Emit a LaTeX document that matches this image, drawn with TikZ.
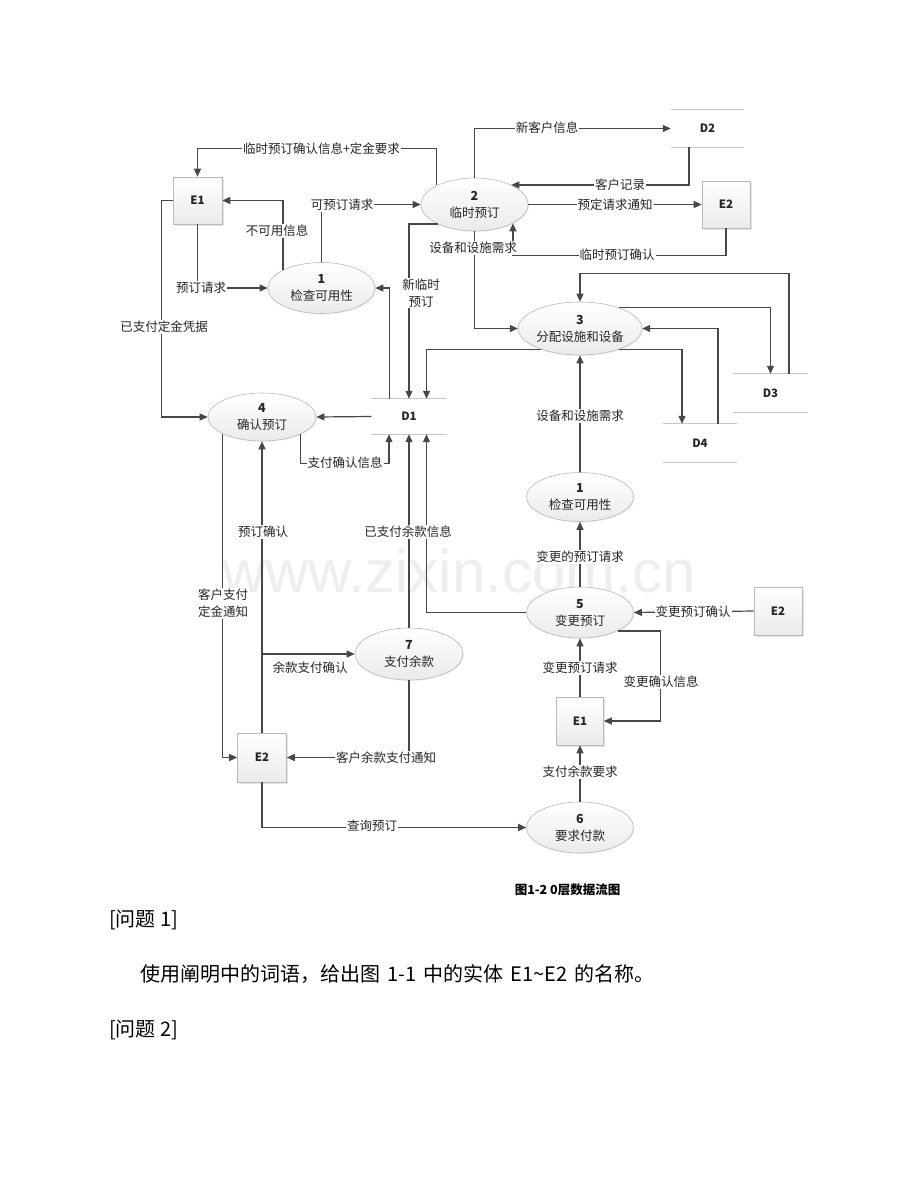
\documentclass[tikz,border=0pt]{standalone}
\usepackage{fontspec}
\setmainfont{Noto Sans CJK SC}
\newfontfamily\wmfont{Liberation Sans}
\usetikzlibrary{shapes.geometric,arrows.meta,calc,shadows}
\begin{document}
\begin{tikzpicture}[x=1pt,y=-1pt,
  lbl/.style={fill=white,inner sep=1pt,font=\fontsize{12.5}{17}\selectfont,align=center,text=black!85},
  proc/.style={ellipse,draw=gray!55,line width=0.6pt,top color=white,bottom color=gray!16,
    minimum width=107pt,minimum height=51pt,inner sep=0pt,align=center,
    font=\fontsize{12.5}{17}\selectfont,text=black!85,
    drop shadow={opacity=0.12,shadow xshift=1pt,shadow yshift=-1pt}},
  ent/.style={rectangle,draw=gray!55,line width=0.6pt,top color=white,bottom color=gray!16,
    minimum width=48pt,minimum height=48pt,inner sep=0pt,
    font=\bfseries\fontsize{11.5}{14}\selectfont,text=black!85,
    drop shadow={opacity=0.2,shadow xshift=1.5pt,shadow yshift=-1.5pt}},
  store/.style={minimum width=75pt,minimum height=37pt,inner sep=0pt,
    font=\bfseries\fontsize{11.5}{14}\selectfont,text=black!85},
  storeline/.style={draw=gray!45,line width=0.7pt},
  flow/.style={draw=black!72,line width=1.2pt,-{Triangle[length=8pt,width=7pt]}}
]
\useasboundingbox[fill=white] (0,0) rectangle (920,1191);

% watermark
\node[text=gray!13,font=\wmfont\fontsize{60}{60}\selectfont] (wm) at (459,571) {www.zixin.com.cn};

% processes
\node[proc] (P2) at (474.5,204.5) [minimum height=53pt] {\textbf{2}\\临时预订};
\node[proc] (P1a) at (321.5,288) {\textbf{1}\\检查可用性};
\node[proc,minimum width=106pt,minimum height=53pt] (P3) at (580,328.5) {\textbf{3}\\分配设施和设备};
\node[proc,minimum width=108pt,minimum height=48pt] (P4) at (262,417) {\textbf{4}\\确认预订};
\node[proc,minimum height=49pt] (P1b) at (580,497) {\textbf{1}\\检查可用性};
\node[proc] (P5) at (580,612.5) {\textbf{5}\\变更预订};
\node[proc,minimum width=108pt,minimum height=52pt] (P7) at (409,654) {\textbf{7}\\支付余款};
\node[proc] (P6) at (580,827.5) {\textbf{6}\\要求付款};

% entities
\node[ent,minimum width=49pt,minimum height=47pt] (E1a) at (197.5,200.5) {E1};
\node[ent,minimum height=47pt] (E2a) at (726,204.5) {E2};
\node[ent,minimum width=49pt,minimum height=49pt] (E2b) at (262,757.5) {E2};
\node[ent] (E2c) at (778,611) {E2};
\node[ent,minimum width=47pt] (E1b) at (580,721) {E1};

% data stores
\node[store,minimum width=73pt] (D2) at (707.5,128.5) {D2};
\node[store,minimum height=35pt] (D1) at (409,416.5) {D1};
\node[store,minimum height=38pt] (D3) at (770.5,393) {D3};
\node[store,minimum width=74pt,minimum height=38pt] (D4) at (700,443) {D4};
\foreach \d in {D1,D2,D3,D4}{
  \draw[storeline] (\d.north west) -- (\d.north east);
  \draw[storeline] (\d.south west) -- (\d.south east);
}

% flows
\draw[flow] (P2.153.3) -- ++(0,-36.6) -| (E1a.north);
\draw[flow] (P1a.155.3) |- (E1a.east);
\draw[flow] (E1a.south) |- (P1a.west);
\draw[flow] (P1a.north) |- (P2.west);
\draw[flow] (E1a.west) -- ++(-11,0) |- (P4.west);
\draw[flow] ($(D1.north west)+(18.5,0)$) |- (P1a.east);
\draw[flow] (P2.208.3) -| (D1.north);
\draw[flow] (P2.north) |- (D2.west);
\draw[flow] ($(D2.south)+(-18.5,0)$) |- (P2.28.3);
\draw[flow] (P2.east) -- (E2a.west);
\draw[flow] (E2a.south) -- ++(0,27) -| (P2.-26.7);
\draw[flow] (P2.south) |- (P3.west);
\draw[flow] ($(D3.north)+(18.5,0)$) |- ($(P3.north)+(0,-28)$) -- (P3.north);
\draw[flow] (P3.28.5) -| (D3.north);
\draw[flow] ($(D4.north)+(18,0)$) |- (P3.east);
\draw[flow] (P3.-28.5) -| ($(D4.north)+(-18,0)$);
\draw[flow] (P3.208.5) -| ($(D1.north)+(17.5,0)$);
\draw[flow] (P1b.north) -- (P3.south);
\draw[flow] (D1.west) -- (P4.east);
\draw[flow] (P4.-24.2) |- ($(D1.south)+(-20,29)$) -- ($(D1.south)+(-20,0)$);
\draw[flow] (P7.north) -- (D1.south);
\draw[flow] (P5.west) -| ($(D1.south)+(17.5,0)$);
\draw[flow] (P4.203.1) |- (E2b.west);
\draw[flow] (E2b.north) -- (P4.south);
\draw[flow] (E2b.north |- P7.west) -- (P7.west);
\draw[flow] (P7.south) |- (E2b.east);
\draw[flow] (E2b.south) |- (P6.west);
\draw[flow] (P5.north) -- (P1b.south);
\draw[flow] (E2c.west) -- (P5.east);
\draw[flow] (E1b.north) -- (P5.south);
\draw[flow] (P5.-26.7) -| ($(E1b.east)+(57,0)$) -- (E1b.east);
\draw[flow] (P6.north) -- (E1b.south);

% labels
\node[lbl] (l1) at (321.5,149) {临时预订确认信息+定金要求};
\node[lbl] (l2) at (277,231) {不可用信息};
\node[lbl] (l3) at (342,205) {可预订请求};
\node[lbl] (l4) at (201,288) {预订请求};
\node[lbl] (l5) at (164,327) {已支付定金凭据};
\node[lbl] (l6) at (421,293) {新临时\\预订};
\node[lbl] (l7) at (547,128) {新客户信息};
\node[lbl] (l8) at (620,185) {客户记录};
\node[lbl] (l9) at (615,204.5) {预定请求通知};
\node[lbl] (l10) at (617,255) {临时预订确认};
\node[lbl] (l11) at (473,248) {设备和设施需求};
\node[lbl] (l12) at (580,416) {设备和设施需求};
\node[lbl] (l13) at (345,463) {支付确认信息};
\node[lbl] (l14) at (263,532) {预订确认};
\node[lbl] (l15) at (408,532) {已支付余款信息};
\node[lbl] (l16) at (223,603.5) {客户支付\\定金通知};
\node[lbl] (l17) at (310,668) {余款支付确认};
\node[lbl] (l18) at (386,758) {客户余款支付通知};
\node[lbl] (l19) at (372,825.5) {查询预订};
\node[lbl] (l20) at (580,557) {变更的预订请求};
\node[lbl] (l21) at (693,612) {变更预订确认};
\node[lbl] (l22) at (580,668) {变更预订请求};
\node[lbl] (l23) at (661,682) {变更确认信息};
\node[lbl] (l24) at (580,772) {支付余款要求};

% caption and text
\node[font=\bfseries\fontsize{12.5}{15}\selectfont,anchor=base] (cap) at (567.5,894) {图1-2 0层数据流图};
\node[font=\fontsize{20}{24}\selectfont,anchor=base west,inner sep=0pt] (q1) at (109,926) {[问题 1]};
\node[font=\fontsize{20}{24}\selectfont,anchor=base west,inner sep=0pt] (t1) at (140,981) {使用阐明中的词语，给出图\hspace{0.35em}1-1\hspace{0.35em}中的实体\hspace{0.35em}E1\textasciitilde E2\hspace{0.35em}的名称。};
\node[font=\fontsize{20}{24}\selectfont,anchor=base west,inner sep=0pt] (q2) at (109,1036) {[问题 2]};
\end{tikzpicture}
\end{document}
